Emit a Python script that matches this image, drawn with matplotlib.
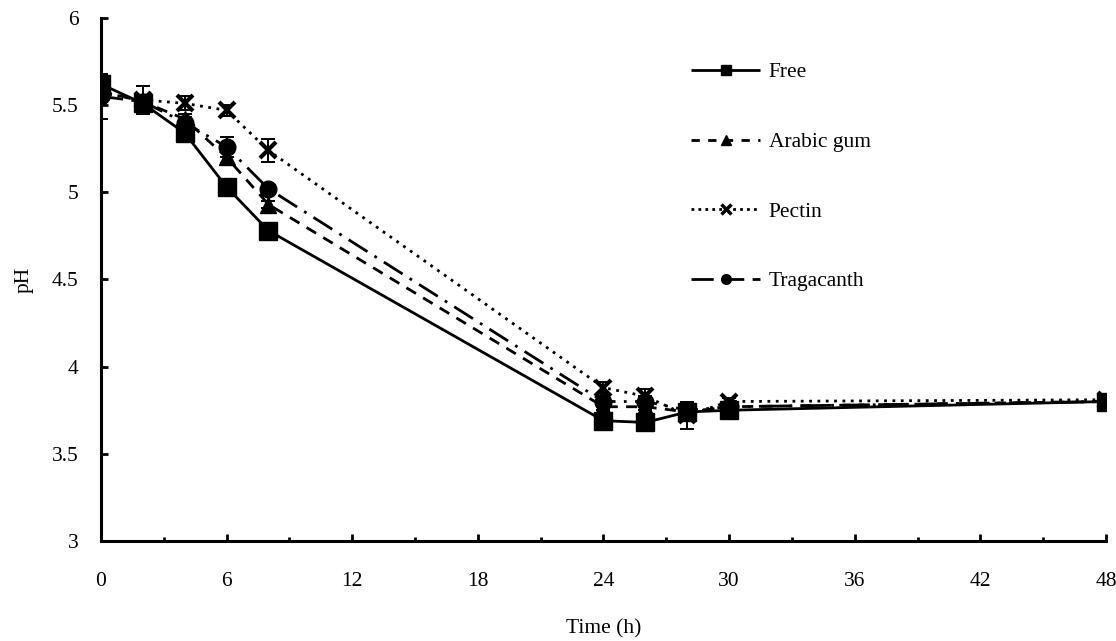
import numpy as np
import matplotlib.pyplot as plt
from matplotlib.ticker import MultipleLocator

plt.rcParams['font.family'] = ['Liberation Serif', 'DejaVu Serif']

# time points (h)
time = [0, 2, 4, 6, 8, 24, 26, 28, 30, 48]

# pH values per treatment
free_ph = [5.62, 5.51, 5.34, 5.03, 4.78, 3.69, 3.68, 3.74, 3.75, 3.80]
arabic_ph = [5.58, 5.52, 5.42, 5.20, 4.93, 3.77, 3.77, 3.74, 3.77, 3.80]
pectin_ph = [5.57, 5.53, 5.51, 5.47, 5.24, 3.88, 3.83, 3.72, 3.80, 3.81]
trag_ph = [5.55, 5.52, 5.40, 5.26, 5.02, 3.80, 3.80, 3.75, 3.77, 3.80]

# standard deviations
free_sd = [0.03, 0.02, 0.02, 0.02, 0.02, 0.02, 0.02, 0.02, 0.02, 0.02]
arabic_sd = [0.05, 0.02, 0.03, 0.03, 0.02, 0.02, 0.02, 0.02, 0.02, 0.02]
pectin_sd = [0.05, 0.08, 0.04, 0.03, 0.065, 0.03, 0.04, 0.08, 0.02, 0.02]
trag_sd = [0.13, 0.03, 0.03, 0.06, 0.03, 0.03, 0.03, 0.03, 0.02, 0.02]

labels = ['Free', 'Arabic gum', 'Pectin', 'Tragacanth']

fs = 15.5

fig, ax = plt.subplots(figsize=(11.16, 6.41), dpi=100)
fig.subplots_adjust(left=0.0905, right=0.991, top=0.972, bottom=0.156)

# y, sd, marker, size, edge width, plot dash, legend dash
series = [
    (free_ph, free_sd, 's', 13, 1, (0, ()), (0, ())),
    (arabic_ph, arabic_sd, '^', 11, 1, (0, (4, 3)), (0, (3, 3))),
    (pectin_ph, pectin_sd, 'x', 11, 3, (0, (1, 2)), (0, (1, 1.5))),
    (trag_ph, trag_sd, 'o', 12, 1, (0, (8, 3, 1, 3)), (0, (8, 3))),
]

leg_handles = []
for (y, err, mk, ms, mew, dash, ldash), lab in zip(series, labels):
    ax.errorbar(time, y, yerr=err, fmt='none', ecolor='black',
                elinewidth=1.4, capsize=5, capthick=1.4, zorder=2)
    ax.plot(time, y, color='black', marker=mk, markersize=ms,
            markeredgewidth=mew, linestyle=dash, linewidth=2.0, zorder=3)
    h, = ax.plot([], [], color='black', marker=mk, markersize=7,
                 markeredgewidth=mew if mk != 'x' else 2.5,
                 linestyle=ldash, linewidth=2.0)
    leg_handles.append(h)

ax.legend(leg_handles, labels, loc='upper left',
          bbox_to_anchor=(0.568, 0.952), frameon=False, fontsize=fs,
          handlelength=3.2, labelspacing=2.3, handletextpad=0.4)

ax.set_xlim(0, 48)
ax.set_ylim(3, 6)
ax.xaxis.set_major_locator(MultipleLocator(6))
ax.xaxis.set_minor_locator(MultipleLocator(3))
ax.set_yticks([3, 3.5, 4, 4.5, 5, 5.5, 6])
ax.set_yticklabels(['3', '3.5', '4', '4.5', '5', '5.5', '6'])

ax.spines['top'].set_visible(False)
ax.spines['right'].set_visible(False)
ax.spines['left'].set_linewidth(2.2)
ax.spines['bottom'].set_linewidth(2.2)

ax.tick_params(axis='x', which='major', direction='in', length=5, width=2,
               labelsize=fs, pad=22)
ax.tick_params(axis='x', which='minor', direction='in', length=3, width=2)
ax.tick_params(axis='y', which='major', direction='in', length=5, width=2,
               labelsize=fs, pad=16)

ax.set_xlabel('Time (h)', fontsize=fs, labelpad=21)
ax.set_ylabel('pH', fontsize=fs, labelpad=13)

plt.savefig('out.png', dpi=100)
